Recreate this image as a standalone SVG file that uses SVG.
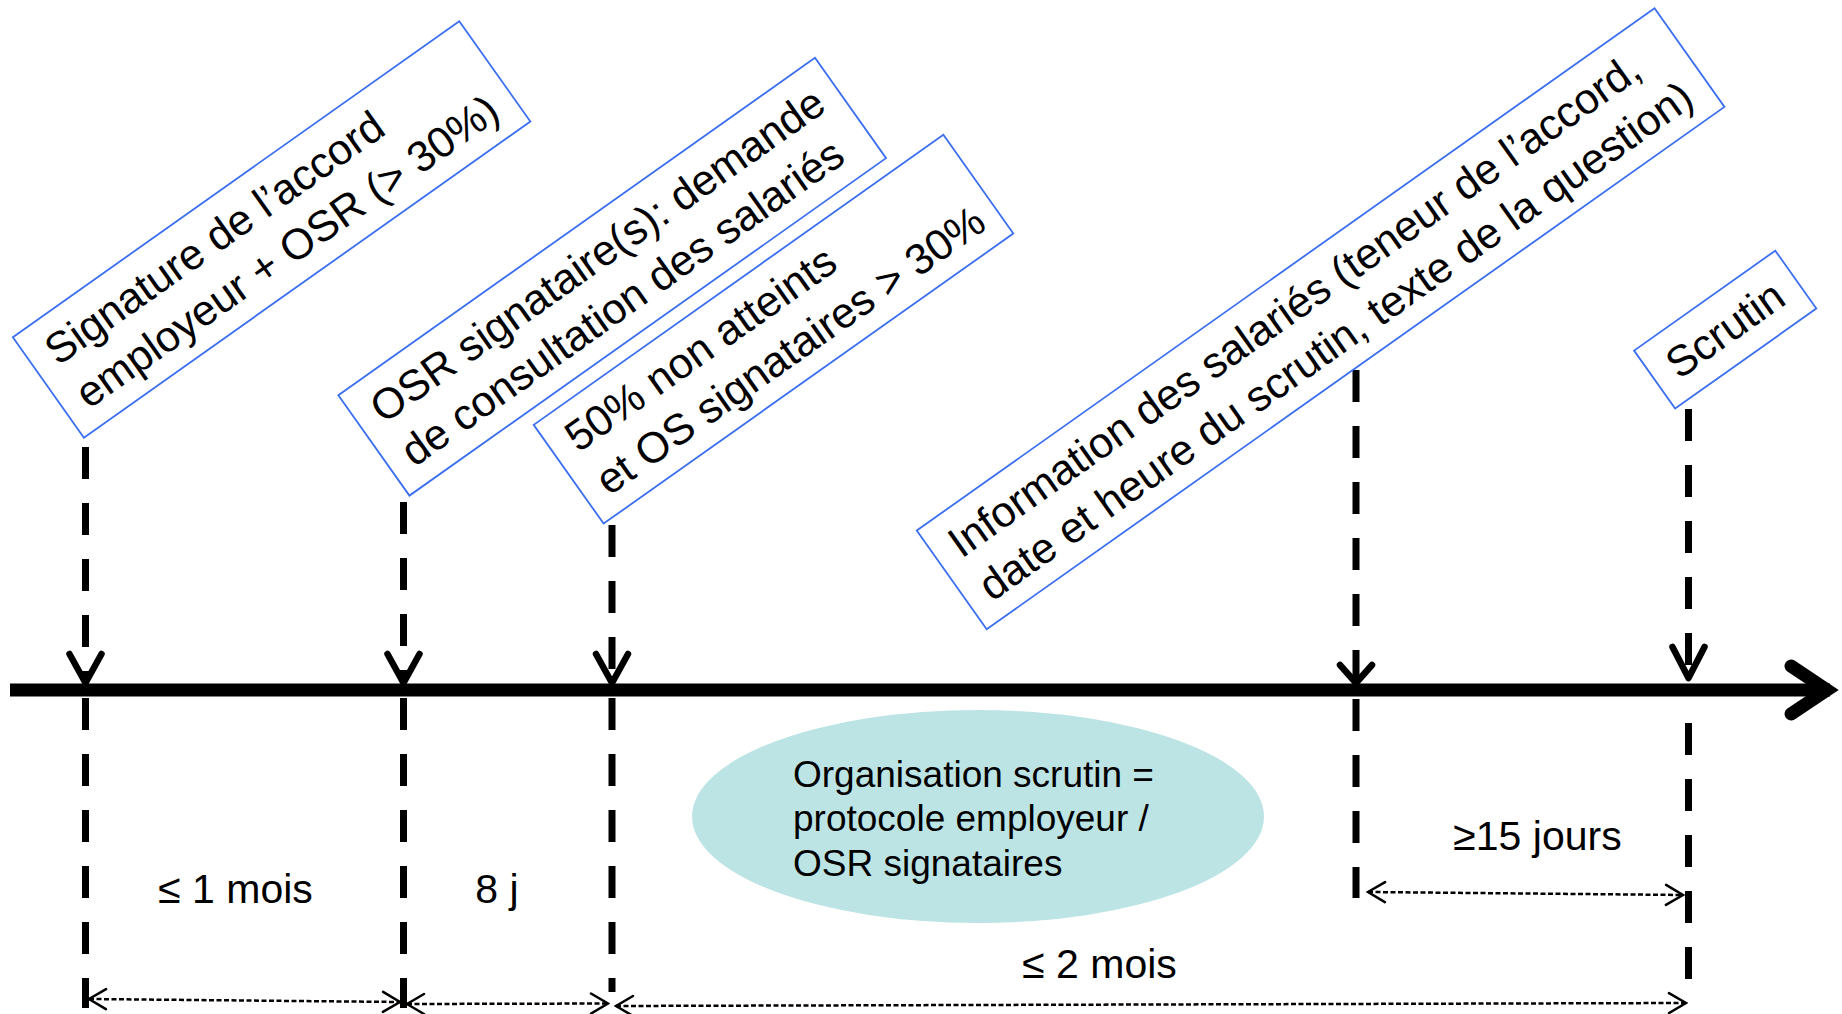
<svg xmlns="http://www.w3.org/2000/svg" width="1842" height="1014" viewBox="0 0 1842 1014">
<style>
  .box { fill: #ffffff; stroke: #3B6FF0; stroke-width: 1.8; }
  .btxt { font-family: "Liberation Sans", Arial, sans-serif; font-size: 43px; fill: #000; }
  .lbl { font-family: "Liberation Sans", Arial, sans-serif; font-size: 41px; fill: #000; text-anchor: middle; }
  .etxt { font-family: "Liberation Sans", Arial, sans-serif; font-size: 37px; fill: #000; }
  .vdash { stroke: #000; stroke-width: 7; stroke-dasharray: 32 24; fill: none; }
  .chev { stroke: #000; stroke-width: 6.5; fill: none; stroke-linecap: round; stroke-linejoin: round; }
  .dim { stroke: #000; stroke-width: 2.5; stroke-dasharray: 5 2.5; fill: none; marker-start: url(#ah); marker-end: url(#ah); }
</style>
<defs>
  <marker id="ah" markerUnits="userSpaceOnUse" viewBox="0 0 22 26" refX="20" refY="13" markerWidth="22" markerHeight="26" orient="auto-start-reverse">
    <path d="M3,3 L20,13 L3,23" fill="none" stroke="#000" stroke-width="2.5" stroke-linecap="round"/>
  </marker>
</defs>
<rect width="1842" height="1014" fill="#ffffff"/>

<g id="organisation">
  <ellipse cx="978" cy="816.5" rx="286" ry="106.5" fill="#BDE4E4"/>
  <text class="etxt" x="793" y="787">Organisation scrutin =</text>
  <text class="etxt" x="793" y="831">protocole employeur /</text>
  <text class="etxt" x="793" y="876">OSR signataires</text>
</g>

<g id="connectors">
  <line x1="10" y1="690" x2="1830" y2="690" stroke="#000" stroke-width="13"/>
  <path d="M1791,666 L1827,690 L1791,714" fill="none" stroke="#000" stroke-width="13" stroke-linecap="round" stroke-linejoin="miter" stroke-miterlimit="4"/>

  <line class="vdash" x1="85.5" y1="447" x2="85.5" y2="683"/>
  <path class="chev" d="M69.5,654 L85.5,683 L101.5,654"/>
  <line class="vdash" x1="403.5" y1="502" x2="403.5" y2="683"/>
  <path class="chev" d="M387.5,654 L403.5,683 L419.5,654"/>
  <line class="vdash" x1="612" y1="525" x2="612" y2="683"/>
  <path class="chev" d="M596,654 L612,683 L628,654"/>
  <line class="vdash" x1="1356" y1="370" x2="1356" y2="683"/>
  <path class="chev" d="M1340,665 L1356,683 L1372,665"/>
  <line class="vdash" x1="1688.5" y1="409" x2="1688.5" y2="678"/>
  <path class="chev" d="M1672.5,647 L1688.5,678 L1704.5,647"/>

  <line class="vdash" x1="85.5" y1="698" x2="85.5" y2="1008"/>
  <line class="vdash" x1="403.5" y1="698" x2="403.5" y2="1008"/>
  <line class="vdash" x1="612" y1="698" x2="612" y2="992"/>
  <line class="vdash" x1="1356" y1="699" x2="1356" y2="898"/>
  <line class="vdash" x1="1688.5" y1="723" x2="1688.5" y2="980"/>

  <path class="dim" d="M89,999 L400,1002"/>
  <path class="dim" d="M407,1004 L608,1003.5"/>
  <path class="dim" d="M616,1006 L1686,1003"/>
  <path class="dim" d="M1368,892 L1683,895"/>
</g>

<g id="box1" transform="translate(271.6,229.4) rotate(-35.3)">
  <rect class="box" x="-273.5" y="-61.5" width="547" height="123"/>
  <text class="btxt" x="-253.5" y="-11.5">Signature de l’accord</text>
  <text class="btxt" x="-253.5" y="41.5">employeur + OSR (&gt; 30%)</text>
</g>

<g id="box2" transform="translate(612.2,276.7) rotate(-35.3)">
  <rect class="box" x="-292" y="-61.5" width="584" height="123"/>
  <text class="btxt" x="-272" y="-11.5">OSR signataire(s): demande</text>
  <text class="btxt" x="-272" y="41.5">de consultation des salariés</text>
</g>

<g id="box3" transform="translate(773.5,329.2) rotate(-35.3)">
  <rect class="box" x="-251" y="-60.5" width="502" height="121"/>
  <text class="btxt" x="-231" y="-11.5">50% non atteints</text>
  <text class="btxt" x="-231" y="41.5">et OS signataires &gt; 30%</text>
</g>

<g id="box4" transform="translate(1320.6,318.7) rotate(-35.3)">
  <rect class="box" x="-452" y="-60.5" width="904" height="121"/>
  <text class="btxt" x="-432" y="-11.5">Information des salariés (teneur de l’accord,</text>
  <text class="btxt" x="-432" y="41.5">date et heure du scrutin, texte de la question)</text>
</g>

<g id="box5" transform="translate(1725.2,329.6) rotate(-35.3)">
  <rect class="box" x="-86.5" y="-35.5" width="173" height="71"/>
  <text class="btxt" x="-67" y="14.5">Scrutin</text>
</g>

<g id="label-1mois"><text class="lbl" x="235.5" y="903">≤ 1 mois</text></g>
<g id="label-8j"><text class="lbl" x="497" y="903">8 j</text></g>
<g id="label-15jours"><text class="lbl" x="1537.5" y="850">≥15 jours</text></g>
<g id="label-2mois"><text class="lbl" x="1099.5" y="978">≤ 2 mois</text></g>
</svg>
